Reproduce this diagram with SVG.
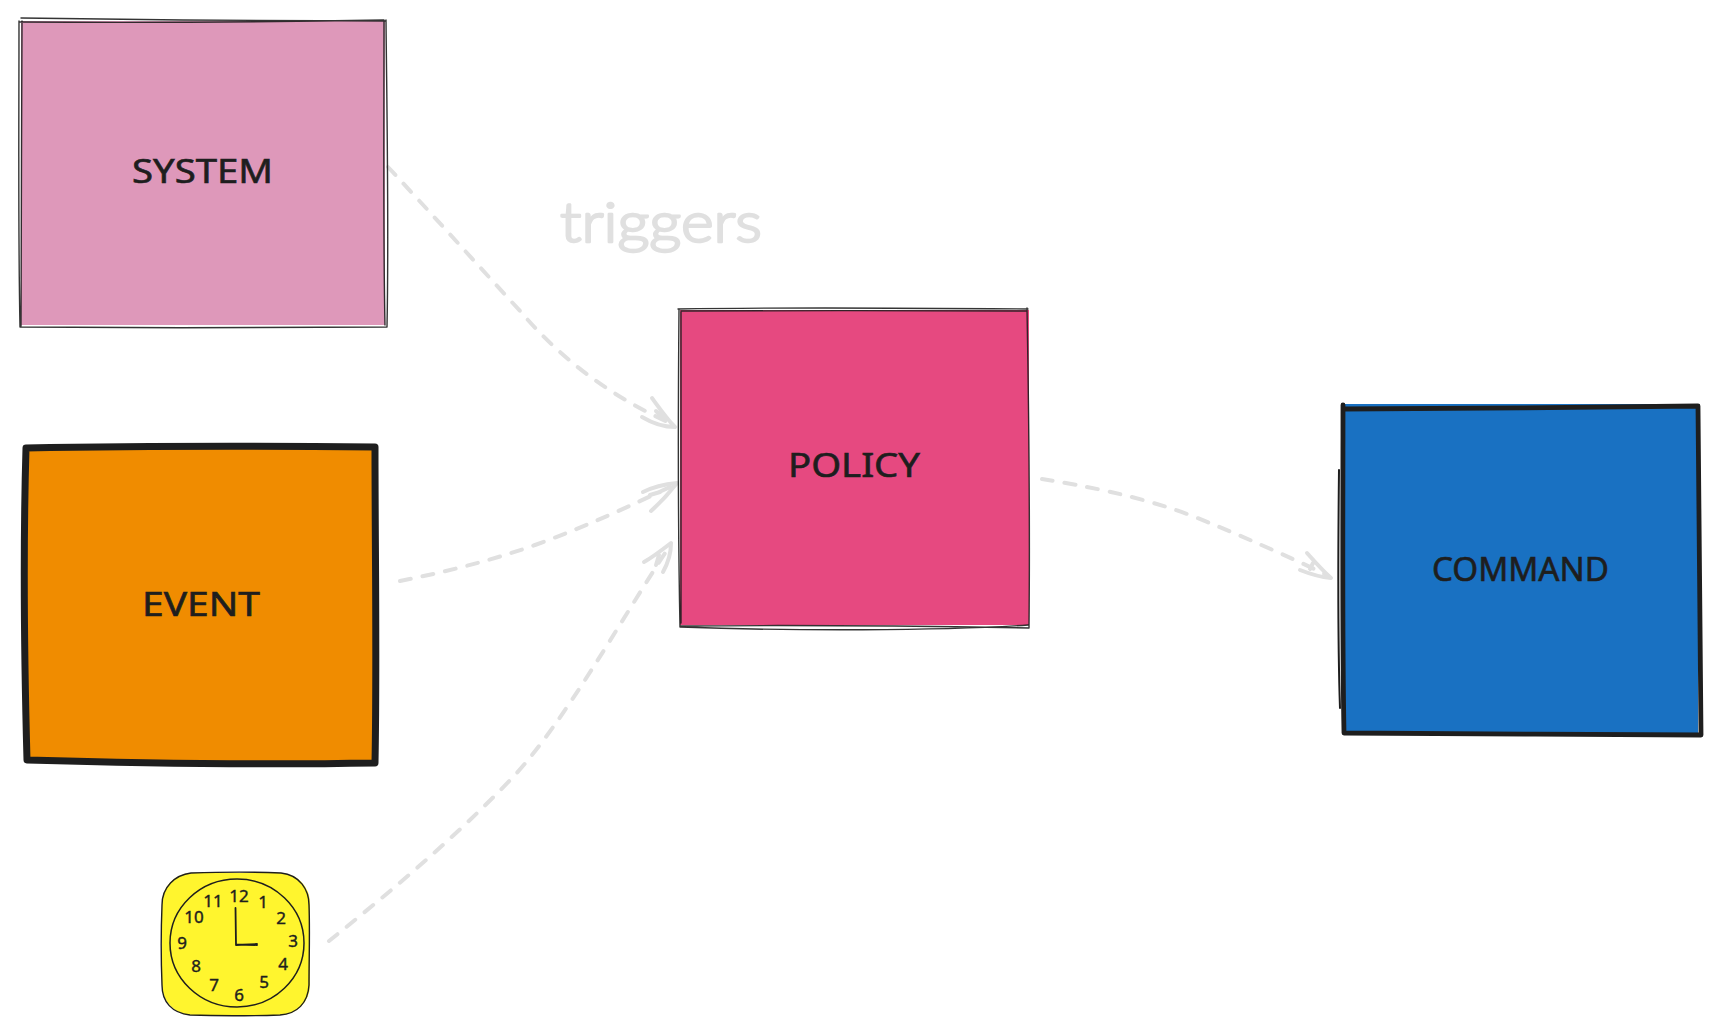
<svg xmlns="http://www.w3.org/2000/svg" width="1717" height="1034" viewBox="0 0 1717 1034">
<style>
.line{fill:none;stroke:#1e1e1e;stroke-linecap:round;stroke-linejoin:round}
.thin{stroke-width:1.4;opacity:.9}
.thick{stroke-width:4.8}
.heavy{stroke-width:7}
.label{font-family:"Noto Sans","Liberation Sans",sans-serif;font-size:32px;fill:#1e1e1e;stroke:#1e1e1e;stroke-width:.6}
.num{font-family:"Noto Sans","Liberation Sans",sans-serif;font-size:17px;fill:#1e1e1e;stroke:#1e1e1e;stroke-width:.4;text-anchor:middle}
.conn{fill:none;stroke:#e0e0e0;stroke-width:4;stroke-linecap:round;stroke-linejoin:round}
.dash{stroke-dasharray:11 12}
.trig{font-family:"Lato","Noto Sans",sans-serif;font-size:56px;font-weight:300;fill:#e0e0e0;stroke:#e0e0e0;stroke-width:2.4;stroke-linejoin:round}
</style>
<rect width="1717" height="1034" fill="#ffffff"/>
<g id="connectors">
<path class="conn dash" d="M388 167C430 212 475 262 521 312C560 358 610 396 668 422"/>
<path class="conn" d="M652 398C660 409 667 419 675 427C663 427 652 423 642 417M656 411L664 419"/>
<path class="conn dash" d="M400 581C445 572 490 561 535 545C585 527 630 506 672 486"/>
<path class="conn" d="M643 492C655 486 667 484 677 483C670 492 660 503 651 511M650 495L660 492"/>
<path class="conn dash" d="M329 941C390 892 455 838 515 775C565 720 615 630 667 550"/>
<path class="conn" d="M644 562C653 557 662 550 671 543C671 553 668 563 663 572M659 555L656 565"/>
<path class="conn dash" d="M1042 479C1085 486 1135 495 1190 515C1240 535 1285 555 1327 575"/>
<path class="conn" d="M1307 553C1315 562 1323 571 1331 578C1320 577 1310 574 1300 570M1313 563L1310 569"/>
</g>
<g id="node-system">
<rect x="21" y="21" width="364" height="304" fill="#de98ba"/>
<path class="line thin" d="M21 18C140 20 270 21 386 21M19 21C19 120 18 230 20 327M386 20C387 120 389 230 387 327M20 327C140 328 270 328 387 327M20 22C140 23 270 22 384 20M22 21C21 120 22 230 21 326M384 22C384 120 383 230 385 325"/>
<text class="label" x="132" y="183" textLength="141" lengthAdjust="spacingAndGlyphs">SYSTEM</text>
</g>
<g id="node-event">
<rect x="26" y="449" width="349" height="312" fill="#f08c00"/>
<path class="line heavy" d="M26 448C140 446 260 446 375 447C375 550 377 660 375 763C260 765 130 763 27 760C24 650 23 550 26 448"/>
<text class="label" x="142" y="616" textLength="118" lengthAdjust="spacingAndGlyphs">EVENT</text>
</g>
<g id="node-clock">
<rect x="162" y="873" width="148" height="142" rx="30" fill="#fff52e"/>
<path class="line" stroke-width="1.4" d="M191 873C220 872 260 872 281 873C300 875 309 890 309 905C310 930 309 960 309 985C308 1003 297 1014 280 1015C250 1016 215 1016 190 1015C172 1013 162 1002 162 985C161 960 161 930 162 905C162 887 175 875 191 873"/>
<ellipse class="line" stroke-width="1.5" cx="237" cy="943" rx="67" ry="64"/>
<path class="line" stroke-width="1.8" d="M235.500 908L236 945L257 944M236 944.500L257 945"/>
<text class="num" x="239" y="902">12</text>
<text class="num" x="263" y="908">1</text>
<text class="num" x="281" y="924">2</text>
<text class="num" x="293" y="947">3</text>
<text class="num" x="283" y="970">4</text>
<text class="num" x="264" y="988">5</text>
<text class="num" x="239" y="1001">6</text>
<text class="num" x="214" y="991">7</text>
<text class="num" x="196" y="972">8</text>
<text class="num" x="182" y="949">9</text>
<text class="num" x="194" y="923">10</text>
<text class="num" x="213" y="907">11</text>
</g>
<g id="node-policy">
<rect x="680" y="310" width="349" height="315" fill="#e64980"/>
<path class="line thin" d="M678 309C790 307 920 308 1028 309M679 310C678 420 678 530 680 627M1027 308C1029 420 1030 530 1029 628M680 626C790 625 920 626 1029 628M680 627C790 631 940 631 1028 625M681 311C790 311 920 310 1026 311M681 312C681 420 681 530 681 623"/>
<text class="label" x="788" y="477" textLength="132" lengthAdjust="spacingAndGlyphs">POLICY</text>
</g>
<g id="node-command">
<rect x="1344" y="404" width="354" height="329" fill="#1971c2"/>
<path class="line thick" d="M1343 409C1450 408 1590 408 1698 406C1699 510 1700 630 1701 735C1590 735 1450 733 1344 733C1342 630 1343 510 1343 405"/>
<path class="line" stroke-width="2" d="M1339 470C1338 560 1338 650 1340 708"/>
<text class="label" x="1432" y="581" textLength="177" lengthAdjust="spacingAndGlyphs">COMMAND</text>
</g>
<g id="label-triggers">
<text class="trig" x="560" y="242" textLength="202" lengthAdjust="spacingAndGlyphs">triggers</text>
</g>
</svg>
